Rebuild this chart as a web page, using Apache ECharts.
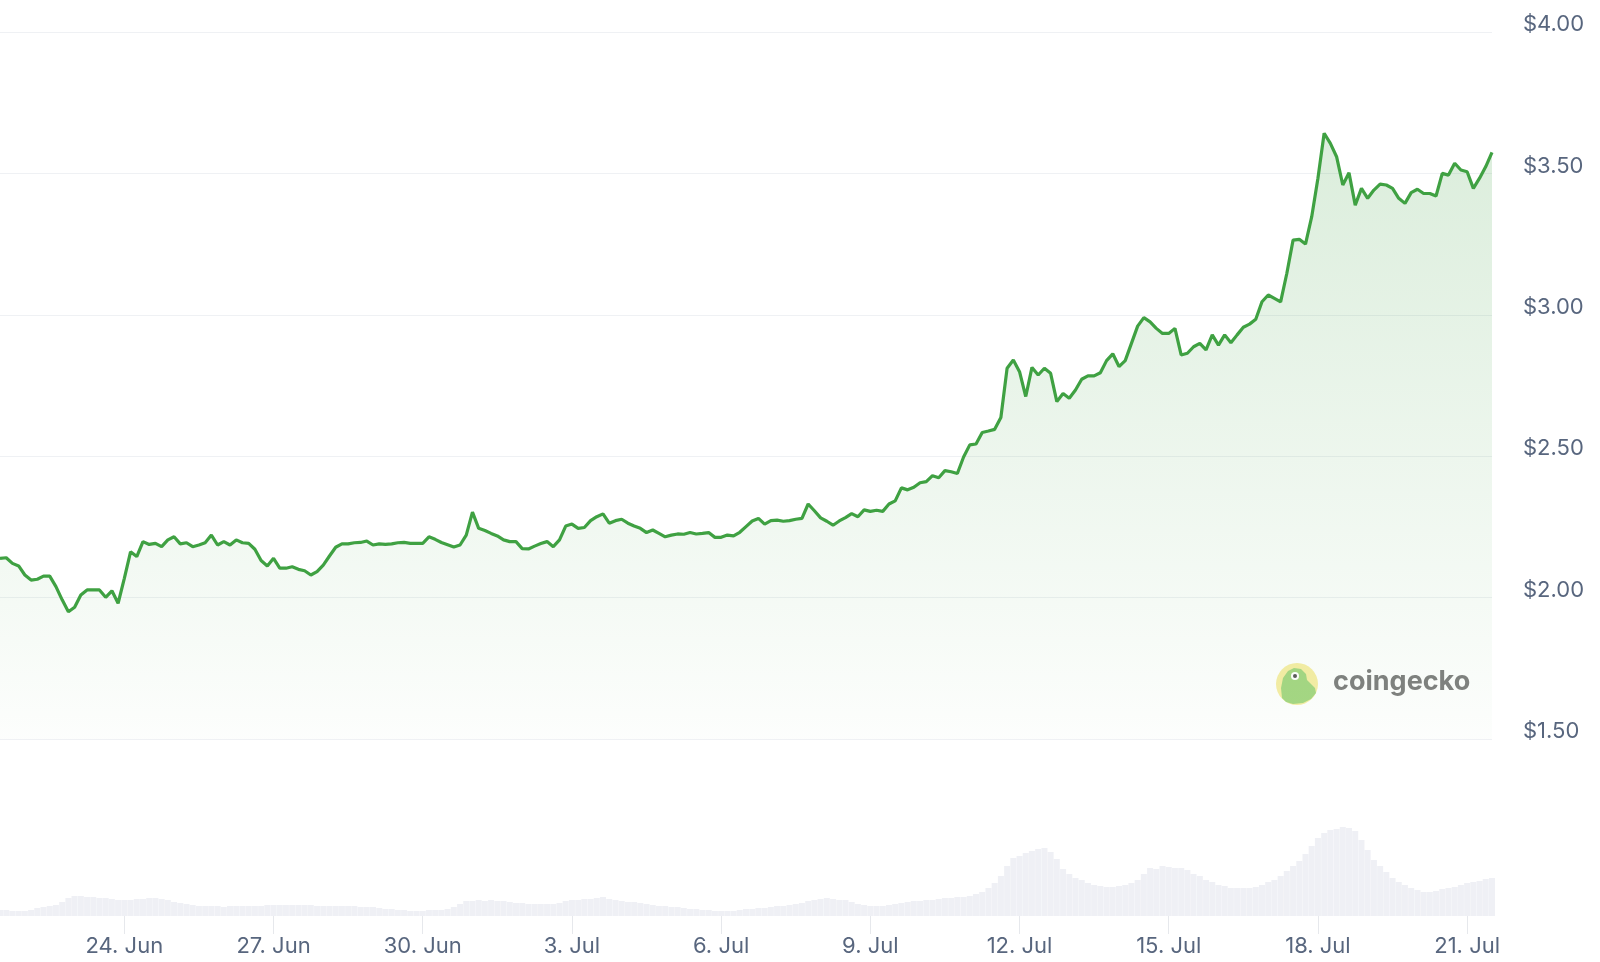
<!DOCTYPE html>
<html>
<head>
<meta charset="utf-8">
<script src="https://cdn.jsdelivr.net/npm/echarts@6/dist/echarts.min.js"></script>
<style>
html,body{margin:0;padding:0;background:#fff;}
#chart{width:1600px;height:962px;}
</style>
</head>
<body>
<div id="chart"></div>
<script>
// Time step between points: 3 hours, starting 21 Jun 12:00
const stepHours = 3;
const prices = [
2.139,2.141,2.121,2.112,2.080,2.062,2.065,2.076,2.076,2.039,
1.992,1.950,1.966,2.009,2.027,2.027,2.027,2.001,2.024,1.980,
2.068,2.162,2.145,2.198,2.188,2.192,2.180,2.204,2.215,2.190,
2.194,2.180,2.186,2.194,2.221,2.186,2.198,2.186,2.204,2.194,
2.192,2.171,2.131,2.112,2.139,2.104,2.104,2.109,2.100,2.095,
2.080,2.092,2.115,2.147,2.178,2.190,2.190,2.194,2.195,2.200,
2.186,2.190,2.188,2.190,2.194,
2.195,2.192,2.192,2.192,2.215,2.206,2.195,2.187,2.179,2.186,
2.221,2.302,2.245,2.237,2.227,2.218,2.204,2.198,2.198,2.173,
2.172,2.182,2.191,2.198,2.180,2.204,2.253,2.260,2.245,2.248,
2.272,2.286,2.296,2.263,2.272,2.277,2.263,2.253,2.245,2.230,
2.239,2.227,2.215,2.221,2.225,2.224,2.230,2.225,2.227,2.230,
2.213,2.213,2.221,2.218,2.231,2.251,2.271,2.280,2.260,2.272,
2.274,2.270,2.272,2.277,2.280,2.331,
2.307,2.282,2.270,2.256,2.271,2.283,2.297,2.286,2.310,2.305,
2.309,2.305,2.331,2.342,2.388,2.381,2.390,2.406,2.410,2.431,
2.424,2.449,2.445,2.439,2.497,2.540,2.543,2.584,2.589,2.595,
2.637,2.811,2.840,2.799,2.711,2.814,2.787,2.811,2.793,2.693,
2.722,2.705,2.734,2.772,2.784,2.784,2.795,2.838,2.862,2.817,
2.838,2.899,2.960,2.990,
2.975,2.952,2.934,2.934,2.952,2.858,2.864,2.887,2.899,2.876,
2.929,2.893,2.929,2.901,2.929,2.956,2.967,2.984,3.046,3.070,
3.058,3.046,3.147,3.264,3.267,3.250,3.347,3.483,3.642,3.606,
3.559,3.459,3.502,3.388,3.447,3.412,3.441,3.462,3.459,3.447,
3.412,3.394,3.432,3.444,3.429,3.429,3.420,3.500,3.494,3.536,
3.512,3.506,3.447,3.483,3.524,3.574
];
// Trading volume (hundreds of millions USD)
const volumes = [
6,6,5,5,5,6,8,9,10,11,
14,18,20,20,19,19,18,18,17,16,
16,16,17,17,18,18,17,16,14,13,
12,11,10,10,10,10,9,10,10,10,
10,10,10,11,11,11,11,11,11,11,
11,10,10,10,10,10,10,10,9,9,
9,8,7,7,6,6,5,5,5,6,
6,6,7,9,12,15,15,16,15,16,
15,15,14,13,13,12,12,12,12,12,
13,15,16,16,17,17,18,19,17,16,
15,14,14,13,12,11,10,10,9,9,
8,7,7,6,6,5,5,5,5,6,
7,7,8,8,9,10,10,11,12,13,
15,16,17,18,17,16,16,14,12,11,
10,10,10,11,12,13,14,15,15,16,
16,17,18,18,19,19,20,22,24,28,
33,40,50,58,60,63,65,67,68,64,
57,47,42,38,36,33,31,30,29,29,
30,31,33,36,42,48,47,50,49,48,
48,46,42,40,36,34,31,30,28,28,
28,28,29,31,34,36,40,45,50,55,
62,70,78,83,86,87,89,88,85,76,
66,56,50,44,38,34,31,28,26,24,
24,25,27,28,29,31,33,34,35,37,38
];
// Tick positions (hours since 21 Jun 12:00) and labels
const tickHours = [60,132,204,276,348,420,492,564,636,708];
const tickLabels = ['24. Jun','27. Jun','30. Jun','3. Jul','6. Jul','9. Jul','12. Jul','15. Jul','18. Jul','21. Jul'];

const priceData = prices.map((p, i) => [i * stepHours, p]);
const volData = volumes.map((v, i) => [i * stepHours, v]);
const xMax = (prices.length - 1) * stepHours;

const chart = echarts.init(document.getElementById('chart'));
const textColor = '#58667e';
const fontFam = 'Inter, "Noto Sans", sans-serif';
const green = '#3fa142';

chart.setOption({
  animation: false,
  backgroundColor: '#ffffff',
  grid: [
    {left: 0, right: 108, top: 32, bottom: 223},
    {left: 0, right: 108, top: 766, bottom: 46}
  ],
  xAxis: [
    {type: 'value', gridIndex: 0, min: 0, max: xMax, show: false},
    {type: 'value', gridIndex: 1, min: 0, max: xMax,
      axisLine: {show: false},
      splitLine: {show: false},
      axisTick: {show: true, customValues: tickHours, length: 18, lineStyle: {color: '#e6e8ec'}},
      axisLabel: {customValues: tickHours, margin: 19, color: textColor, fontSize: 22, fontFamily: fontFam,
        formatter: function (v) { const k = tickHours.indexOf(v); return k >= 0 ? tickLabels[k] : ''; }}
    }
  ],
  yAxis: [
    {type: 'value', gridIndex: 0, min: 1.5, max: 4, interval: 0.5, position: 'right',
      axisLine: {show: false}, axisTick: {show: false},
      splitLine: {lineStyle: {color: '#eff1f4', width: 1}},
      axisLabel: {margin: 31, align: 'left', verticalAlign: 'bottom', lineHeight: 15,
        color: textColor, fontSize: 22, fontFamily: fontFam,
        formatter: function (v) { return '$' + v.toFixed(2); }}
    },
    {type: 'value', gridIndex: 1, min: 0, max: 150, show: false}
  ],
  series: [
    {type: 'bar', xAxisIndex: 1, yAxisIndex: 1, data: volData, barWidth: 6,
      itemStyle: {color: 'rgba(232,234,241,0.7)'}, silent: true},
    {type: 'line', xAxisIndex: 0, yAxisIndex: 0, data: priceData, showSymbol: false,
      lineStyle: {color: green, width: 3.2}, itemStyle: {color: green},
      areaStyle: {origin: 'start', color: new echarts.graphic.LinearGradient(0, 0, 0, 1, [
        {offset: 0, color: 'rgba(65,162,68,0.27)'},
        {offset: 1, color: 'rgba(65,162,68,0.02)'}
      ])}
    }
  ],
  graphic: [
    {type: 'group', x: 1297, y: 684, children: [
      {type: 'circle', shape: {cx: 0, cy: 0, r: 21}, style: {fill: '#f7eea6'}},
      {type: 'polygon', shape: {points: [[-15,14],[-16,4],[-14,-6],[-9,-13],[-3,-16],[4,-15],[9,-10],[10,-4],[14,0],[18,4],[19,9],[14,15],[6,19],[-4,20],[-11,18]]},
        style: {fill: '#a6d784'}},
      {type: 'circle', shape: {cx: -2, cy: -8, r: 4}, style: {fill: '#ffffff'}},
      {type: 'circle', shape: {cx: -2, cy: -8, r: 2}, style: {fill: '#5a5a5a'}}
    ]},
    {type: 'text', x: 1333, y: 668, style: {text: 'coingecko', fill: '#808080', font: 'bold 27px ' + fontFam}}
  ]
});
</script>
</body>
</html>
